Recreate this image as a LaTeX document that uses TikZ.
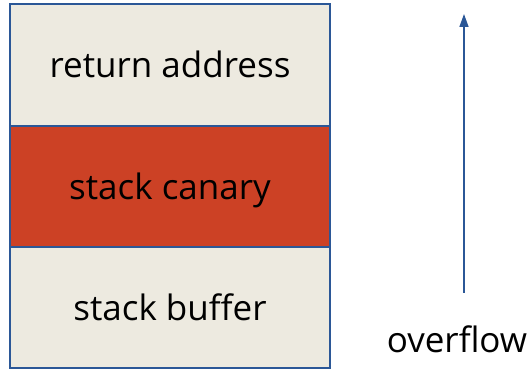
\documentclass[tikz,border=0pt]{standalone}
\usepackage{fontspec}
\setmainfont{Open Sans}
\usetikzlibrary{arrows.meta}
\definecolor{frameblue}{HTML}{2B5797}
\definecolor{slotbeige}{HTML}{EDEAE0}
\definecolor{canaryred}{HTML}{CC4125}
\tikzset{
  slot/.style={draw=frameblue, line width=1.3pt, minimum width=320pt,
    minimum height=121pt, inner sep=0pt, text height=26pt, text depth=0pt,
    font=\fontsize{35}{40}\selectfont},
  growarrow/.style={draw=frameblue, line width=1.6pt,
    -{Triangle[width=9pt,length=13pt]}},
  lbl/.style={font=\fontsize{35}{40}\selectfont, inner sep=0pt}
}
\begin{document}
\begin{tikzpicture}[x=1pt,y=1pt]
  \useasboundingbox (0,0) rectangle (531,370);
  % stack frame slots, highest address on top
  \node[slot, fill=slotbeige, minimum height=122pt] (ret) at (170,305) {return address};
  \node[slot, fill=canaryred] (canary) at (170,183.5) {stack canary};
  \node[slot, fill=slotbeige] (buf) at (170,62.5) {stack buffer};
  % direction in which the buffer overflows
  \node[lbl, anchor=base] (ovf) at (457,17) {overflow};
  \coordinate (arrowfoot) at (464,77);
  \coordinate (arrowtip) at (464,356);
  \draw[growarrow] (arrowfoot) -- (arrowtip);
\end{tikzpicture}
\end{document}
